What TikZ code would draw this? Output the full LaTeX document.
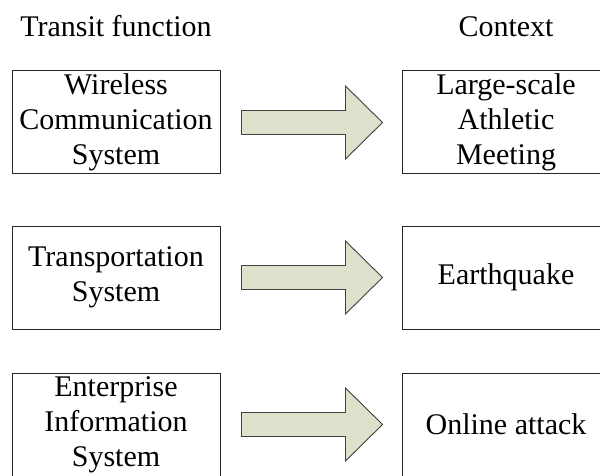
\documentclass[tikz,border=0pt]{standalone}
\usepackage{fontspec}
\setmainfont{Liberation Serif}
\begin{document}
\begin{tikzpicture}[x=1pt,y=-1pt,
  every node/.style={font=\fontsize{30}{35}\selectfont},
  box/.style={draw=black!85, line width=1pt, minimum width=208pt,
    minimum height=103pt, inner sep=0pt, align=center},
  head/.style={anchor=base},
  fatarrow/.style={draw=black!75, line width=0.9pt, fill=arrowfill, line join=miter}
]
\definecolor{arrowfill}{RGB}{221,224,203}
\useasboundingbox (0,0) rectangle (600,476);

% column headings
\node[head] (hl) at (116,37) {Transit function};
\node[head] (hr) at (506,37) {Context};

% left column: transit functions
\node[box] (w) at (116,122.5) {Wireless\\Communication\\System};
\node[box] (t) at (116,277.5) {Transportation\\System};
\node[box] (e) at (116,424.5) {Enterprise\\Information\\System};

% right column: contexts
\node[box] (m) at (506,122.5) {Large-scale\\Athletic\\Meeting};
\node[box] (q) at (506,277.5) {Earthquake};
\node[box] (o) at (506,424.5) {Online attack};

% block arrows between the columns
\foreach \a/\b in {w/m, t/q, e/o}{
  \path (\a.east) ++(21,0) coordinate (s);
  \draw[fatarrow] (s) ++(0,-12) -- ++(104,0) -- ++(0,-24.5)
    -- ++(37,36.5) -- ++(-37,36.5) -- ++(0,-24.5) -- ++(-104,0) -- cycle;
}
\end{tikzpicture}
\end{document}
